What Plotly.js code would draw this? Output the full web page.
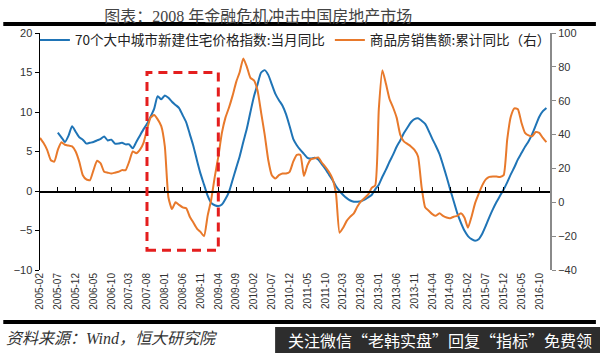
<!DOCTYPE html>
<html><head><meta charset="utf-8">
<script src="https://cdn.plot.ly/plotly-3.0.1.min.js"></script>
<style>html,body{margin:0;padding:0;background:#fff}#chart{width:600px;height:353px}</style>
</head><body><div id="chart"></div>
<script>
// monthly categories 2005-02 .. 2016-12
const startYear = 2005, startMonth = 2, monthCount = 143;
const months = [];
for (let k = 0; k < monthCount; k++) {
  const m = startMonth - 1 + k;
  const y = startYear + Math.floor(m / 12);
  const mm = (m % 12) + 1;
  months.push(y + '-' + (mm < 10 ? '0' + mm : '' + mm));
}
const tickLabels = ['2005-02','2005-07','2005-12','2006-05','2006-10','2007-03','2007-08','2008-01','2008-06','2008-11','2009-04','2009-09','2010-02','2010-07','2010-12','2011-05','2011-10','2012-03','2012-08','2013-01','2013-06','2013-11','2014-04','2014-09','2015-02','2015-07','2015-12','2016-05','2016-10'];

const seriesNames = ['70个大中城市新建住宅价格指数:当月同比', '商品房销售额:累计同比（右）'];

// 70-city new-home price index, yoy % (left axis)
const priceYoY = [null,null,null,null,null,
 7.4,6.8,6.2,7.0,8.2,7.5,6.8,6.5,6.0,6.1,6.2,6.4,6.6,6.9,6.4,
 6.5,6.0,6.0,6.1,5.9,5.9,5.4,6.2,7.0,7.8,8.5,9.4,10.4,12.0,11.6,
 12.1,11.8,11.3,10.9,10.5,9.6,8.7,7.2,5.7,3.9,2.2,0.8,-0.6,-1.5,-1.8,
 -1.9,-1.7,-1.0,-0.1,1.4,2.9,4.4,6.2,7.9,10.0,12.0,13.5,15.0,15.3,14.7,
 13.5,12.3,11.5,10.8,9.7,8.2,6.6,5.8,5.2,4.7,4.2,4.1,4.2,4.0,3.4,
 2.8,2.1,1.4,0.6,0.0,-0.5,-0.9,-1.2,-1.35,-1.35,-1.3,-1.1,-0.8,-0.5,0.2,
 0.8,1.8,2.7,3.7,4.6,5.6,6.4,7.3,8.0,8.7,9.1,9.2,8.9,8.5,7.6,
 6.6,5.7,4.7,3.3,1.8,0.2,-1.3,-2.8,-4.0,-5.0,-5.7,-6.1,-6.3,-6.1,-5.4,
 -4.4,-3.3,-2.3,-1.4,-0.6,0.2,1.1,2.1,3.0,4.0,4.8,5.6,6.3,7.2,8.3,
 9.4,10.1,10.5];

// commercial housing sales, cumulative yoy % (right axis)
const salesYoY = [
 38,35,31,25,24,31,35.5,34,33.5,33,30,24,16,13.5,13,
 19,24.5,23,18,17.5,17,17.5,18,19,19,24,30,29,31,35,
 43,50,51.5,49,45,33,3,-4,0,-1.5,-3,-3.5,-8.5,-12,-15.5,
 -17.5,-20,-8,1.5,15,27,41,50,56,63,71,77,85,80,73.5,
 72,66,53,40,25,16,14,16,17,17,18,24,28,28,15.5,
 22,25.5,26,26.5,23.5,21,18,14,5,-18,-15,-11,-8.5,-6.5,-2.5,
 0.5,2.5,4.5,8.5,10,55,78,70,61,56,50,40,36,34.5,33,
 31,27,9,-3,-5,-7,-8,-6.5,-8,-9,-9.4,-8.5,-8,-6.5,-9,
 -15,-8.5,-0.5,5,10,13.5,15,15.3,15.2,15,16,37,50.5,55.5,55,
 47,41,39.5,39,41.5,41,38,35.5];

const highlight = {from: '2007-08', to: '2009-04', top: 15, bottom: -7.5};

const cjk = '"Noto Sans CJK SC", "Noto Sans", sans-serif';
const serifCjk = '"Liberation Serif", "Noto Sans CJK SC", serif';

const traces = [
  {x: months, y: priceYoY, name: seriesNames[0], type: 'scatter', mode: 'lines',
   xaxis: 'x', yaxis: 'y', connectgaps: false,
   line: {color: '#1f74b6', width: 2, shape: 'spline', smoothing: 0.6}},
  {x: months, y: salesYoY, name: seriesNames[1], type: 'scatter', mode: 'lines',
   xaxis: 'x2', yaxis: 'y2',
   line: {color: '#e8792b', width: 2, shape: 'spline', smoothing: 0.5}}
];

const layout = {
  width: 600, height: 353,
  margin: {l: 40, r: 50, t: 33, b: 83, pad: 0},
  paper_bgcolor: '#fff', plot_bgcolor: '#fff',
  showlegend: true,
  legend: {orientation: 'h', x: -0.01, y: 1.035, xanchor: 'left', yanchor: 'top',
    bgcolor: 'rgba(0,0,0,0)', font: {family: cjk, size: 13.6, color: '#222'},
    itemwidth: 30, traceorder: 'normal'},
  title: {text: '图表：2008 年金融危机冲击中国房地产市场', x: 0.428, xref: 'paper', xanchor: 'center',
    y: 12, yref: 'container', yanchor: 'middle',
    font: {family: serifCjk, size: 16, color: '#444'}},
  xaxis: {type: 'category', categoryorder: 'array', categoryarray: months,
    range: [0, 143], showline: false, ticks: '', showgrid: false, zeroline: false,
    tickmode: 'array', tickvals: tickLabels, ticktext: tickLabels, tickangle: -90,
    tickfont: {family: '"Liberation Sans", sans-serif', size: 10, color: '#333'}, fixedrange: true},
  xaxis2: {type: 'category', categoryorder: 'array', categoryarray: months,
    overlaying: 'x', anchor: 'free', position: 1/3, side: 'bottom',
    range: [0, 143], showline: true, linecolor: '#000', linewidth: 1.5,
    ticks: 'inside', ticklen: 4, tickwidth: 1, tickcolor: '#000',
    tickmode: 'array', tickvals: tickLabels, showticklabels: false, showgrid: false, zeroline: false},
  yaxis: {range: [-10, 20], dtick: 5, tick0: 0, showline: true, linecolor: '#000', linewidth: 1.5,
    ticks: 'outside', ticklen: 4, tickcolor: '#000', showgrid: false, zeroline: false,
    tickfont: {family: '"Liberation Sans", sans-serif', size: 11, color: '#333'}},
  yaxis2: {range: [-40, 100], dtick: 20, tick0: 0, overlaying: 'y', side: 'right', anchor: 'x2',
    showline: true, linecolor: '#8a8a8a', linewidth: 2,
    ticks: 'outside', ticklen: 4, tickcolor: '#8a8a8a', showgrid: false, zeroline: false,
    tickfont: {family: '"Liberation Sans", sans-serif', size: 11, color: '#333'}},
  shapes: [
    {type: 'rect', xref: 'x', yref: 'y', x0: highlight.from, x1: highlight.to,
     y0: highlight.bottom, y1: highlight.top,
     line: {color: '#e41e1e', width: 3, dash: '9px,6px'}, fillcolor: 'rgba(0,0,0,0)'},
    {type: 'line', xref: 'paper', yref: 'paper', x0: -0.072, x1: 1.09, y0: 1.038, y1: 1.038,
     line: {color: '#000', width: 4}},
    {type: 'line', xref: 'paper', yref: 'paper', x0: -0.072, x1: 1.09, y0: -0.219, y1: -0.219,
     line: {color: '#000', width: 4}},
    {type: 'rect', xref: 'paper', yref: 'paper', x0: 0.461, x1: 1.1, y0: -0.36, y1: -0.24,
     line: {width: 0}, fillcolor: '#2d2d2d'}
  ],
  annotations: [
    {text: '资料来源：Wind，恒大研究院', xref: 'paper', yref: 'paper', x: -0.07, y: -0.287,
     xanchor: 'left', yanchor: 'middle', showarrow: false,
     font: {family: serifCjk, size: 16, color: '#333', style: 'italic'}},
    {text: '关注微信“老韩实盘”回复“指标”免费领', xref: 'paper', yref: 'paper', x: 0.785, y: -0.297,
     xanchor: 'center', yanchor: 'middle', showarrow: false,
     font: {family: cjk, size: 16, color: '#ffffff'}}
  ]
};

Plotly.newPlot('chart', traces, layout, {displayModeBar: false, staticPlot: true});
</script>
</body></html>
